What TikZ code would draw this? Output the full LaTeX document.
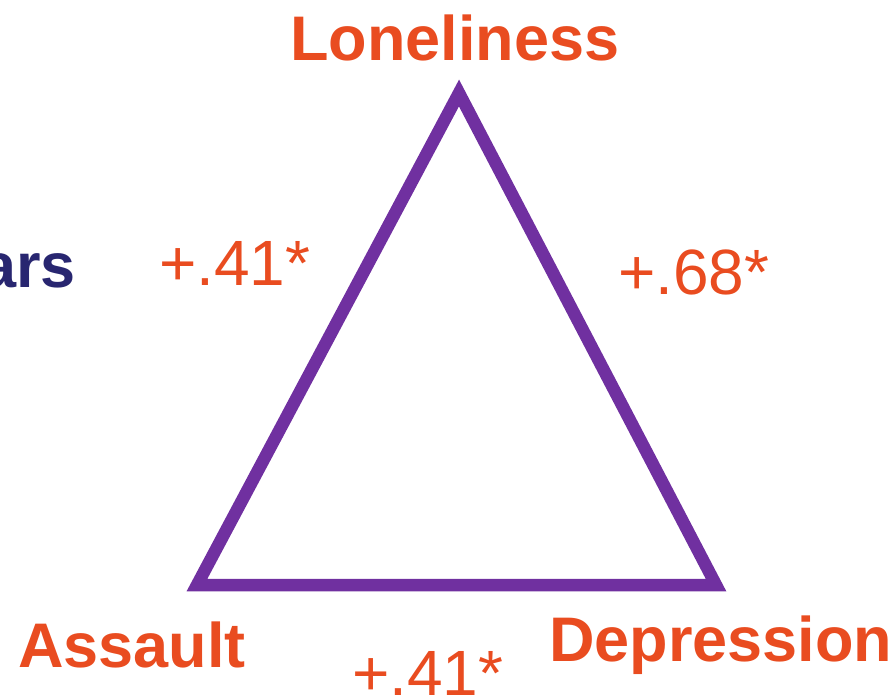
\documentclass[tikz,border=0pt]{standalone}
\usepackage{fontspec}
\setmainfont{Liberation Sans}
\usepackage{xcolor}
\usetikzlibrary{calc,positioning}
\definecolor{corrorange}{RGB}{233,76,32}
\definecolor{triviolet}{RGB}{112,48,160}
\definecolor{darknavy}{RGB}{40,38,112}
\tikzset{
	vertexlabel/.style={text=corrorange,font=\fontsize{63}{63}\selectfont\bfseries,inner sep=0pt},
	corrlabel/.style={text=corrorange,font=\fontsize{64}{64}\selectfont,inner sep=0pt}
}

\begin{document}
\begin{tikzpicture}[x=1pt,y=-1pt]
		\useasboundingbox (0,0) rectangle (896,695);
		
		% Corners
		\coordinate (lon) at (459,93);
		\coordinate (ass) at (197,585);
		\coordinate (dep) at (716,585);
		
		% Triangle
		\draw[triviolet,line width=12.5pt,line join=miter] (lon) -- (ass) -- (dep) -- cycle;
		
		% Corner labels
		\node[vertexlabel,anchor=base] (lonlabel) at (455,61) {Loneliness};
		\node[vertexlabel,anchor=base west] (asslabel) at (18,667) {Assault};
		\node[vertexlabel,anchor=base west] (deplabel) at (549,661) {Depression};
		
		% Correlations
		\node[corrlabel,anchor=base west] (leftcorr) at (159,285) {+.41*};
		\node[corrlabel,anchor=base west] (rightcorr) at (618,294) {+.68*};
		\node[corrlabel,anchor=base west] (bottomcorr) at (352,695) {+.41*};
		
		% Cut-off text
		\node[text=darknavy,font=\fontsize{63}{63}\selectfont\bfseries,inner sep=0pt,anchor=base east] (cutlabel) at (76,287) {ars};
	\end{tikzpicture}
\end{document}
